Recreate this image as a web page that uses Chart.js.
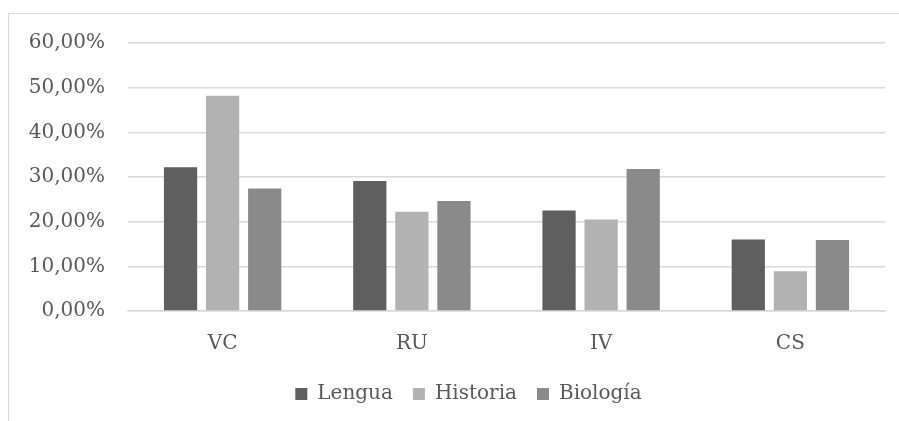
<!DOCTYPE html>
<html>
<head>
<meta charset="utf-8">
<script src="https://cdn.jsdelivr.net/npm/chart.js@4"></script>
<style>
  html, body { margin: 0; padding: 0; background: #fff; }
  #wrap { position: relative; width: 899px; height: 421px; overflow: hidden; }
  #frame { position: absolute; left: 8px; top: 13px; width: 900px; height: 420px;
           border-left: 1.5px solid #d9d9d9; border-top: 1.5px solid #d9d9d9; }
  #chart { position: absolute; left: 0; top: 0; }
</style>
</head>
<body>
<div id="wrap">
  <div id="frame"></div>
  <canvas id="chart" width="899" height="421"></canvas>
</div>
<script>
const categories = ['VC', 'RU', 'IV', 'CS'];
const lengua = [32.2, 29.1, 22.5, 16.0];
const historia = [48.2, 22.2, 20.5, 8.9];
const biologia = [27.4, 24.6, 31.8, 15.9];
const yTicks = [0, 10, 20, 30, 40, 50, 60];

const FONT = "'DejaVu Serif', 'Liberation Serif', serif";
const TEXT = '#595959';
const GRID = '#d9d9d9';

function makeSet(label, data, color) {
    return {
        label: label,
        data: data,
        backgroundColor: color,
        borderColor: color,
        borderWidth: 0,
        categoryPercentage: 0.667,
        barPercentage: 0.79
    };
}

// the legend sits a little right of the canvas centre in the original
const shiftLegend = {
    id: 'shiftLegend',
    afterLayout(chart) {
        chart.legend.left += 26;
        chart.legend.right += 26;
    }
};

new Chart(document.getElementById('chart').getContext('2d'), {
    type: 'bar',
    data: {
        labels: categories,
        datasets: [
            makeSet('Lengua', lengua, '#5f5f5f'),
            makeSet('Historia', historia, '#b2b2b2'),
            makeSet('Biología', biologia, '#8a8a8a')
        ]
    },
    options: {
        responsive: false,
        animation: false,
        layout: { padding: { left: 0, right: 14, top: 43, bottom: 7 } },
        scales: {
            x: {
                grid: { display: false },
                border: { color: GRID, width: 1.5 },
                ticks: { color: TEXT, font: { family: FONT, size: 20 }, padding: 13 },
                afterFit: (axis) => { axis.height = 53; }
            },
            y: {
                min: 0,
                max: 60,
                afterBuildTicks: (axis) => { axis.ticks = yTicks.map(v => ({ value: v })); },
                afterFit: (axis) => { axis.width = 128; },
                grid: { color: GRID, lineWidth: 1.5, drawTicks: false },
                border: { display: false },
                ticks: {
                    color: TEXT,
                    font: { family: FONT, size: 20 },
                    padding: 23,
                    callback: (v) => v.toFixed(2).replace('.', ',') + '%'
                }
            }
        },
        plugins: {
            legend: {
                position: 'bottom',
                labels: {
                    color: TEXT,
                    font: { family: FONT, size: 20 },
                    boxWidth: 12,
                    boxHeight: 12,
                    padding: 20
                }
            },
            tooltip: { enabled: false }
        }
    },
    plugins: [shiftLegend]
});
</script>
</body>
</html>
